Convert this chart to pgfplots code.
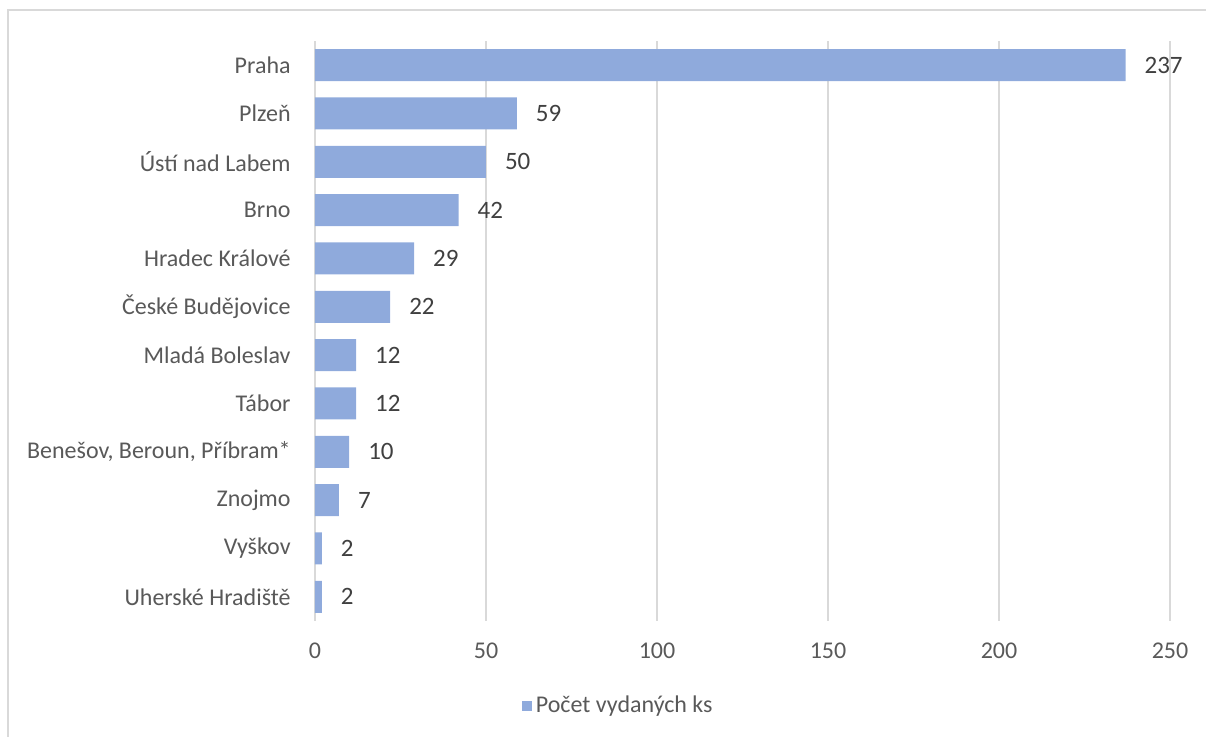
\documentclass[border=0pt]{standalone}
\usepackage{fontspec}
\setmainfont{Carlito}
\usepackage{pgfplots}
\pgfplotsset{compat=1.18}
\definecolor{barblue}{HTML}{8FAADC}
\definecolor{gridgray}{HTML}{D9D9D9}
\definecolor{labelgray}{HTML}{595959}
\definecolor{valuegray}{HTML}{404040}
\begin{document}
\begin{tikzpicture}[x=1pt,y=1pt]
\useasboundingbox (0,0) rectangle (603,368.5);
% chart frame
\draw[gridgray, line width=0.75pt] (4,-5) -- (4,363.5) -- (610,363.5);
\begin{axis}[
  at={(157.5pt,58pt)}, anchor=south west,
  scale only axis, width=427.5pt, height=290pt,
  xbar, bar width=16pt,
  xmin=0, xmax=250, ymin=-0.5, ymax=11.5,
  xtick={0,50,...,250},
  ytick={0,...,11},
  yticklabels={Uherské Hradiště, Vyškov, Znojmo, {Benešov, Beroun, Příbram*}, Tábor, Mladá Boleslav, České Budějovice, Hradec Králové, Brno, Ústí nad Labem, Plzeň, Praha},
  major tick length=0pt,
  axis lines*=left,
  x axis line style={draw=none},
  y axis line style={draw=gridgray, line width=0.9pt},
  xmajorgrids, major grid style={gridgray, line width=0.75pt},
  tick label style={font=\fontsize{12}{14}\selectfont, text=labelgray, inner sep=0pt},
  yticklabel style={xshift=-12pt},
  xticklabel style={yshift=-11pt},
  /pgf/number format/assume math mode=true,
  nodes near coords, point meta=x,
  nodes near coords style={font=\fontsize{12.5}{15}\selectfont, text=valuegray, anchor=west, xshift=6pt},
  legend style={at={(axis description cs:0.3556,0)}, anchor=center, yshift=-42.5pt, draw=none, fill=none, font=\fontsize{12}{14}\selectfont, text=labelgray, inner sep=0pt},
  legend image code/.code={\fill[barblue] (0pt,-2.6pt) rectangle (5.2pt,2.6pt);},
]
\addplot[fill=barblue, draw=none] coordinates {
  (2,0) (2,1) (7,2) (10,3) (12,4) (12,5) (22,6) (29,7) (42,8) (50,9) (59,10) (237,11)
};
\addlegendentry{Počet vydaných ks}
\end{axis}
\end{tikzpicture}
\end{document}
